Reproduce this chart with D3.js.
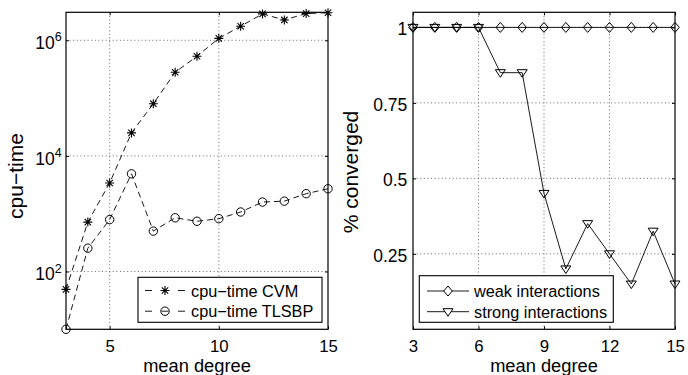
<!DOCTYPE html>
<html>
<head>
<meta charset="utf-8">
<script src="https://cdn.jsdelivr.net/npm/d3@7"></script>
<style>
  body { margin: 0; background: #fff; }
  svg text { font-family: "Liberation Sans", Arial, Helvetica, sans-serif; fill: #000; }
  .domain { display: none; }
  .tick line { stroke: #000; stroke-width: 1; }
</style>
</head>
<body>
<svg width="688" height="375"></svg>
<script>
// mean degree on the x axis of both panels
var degrees = [3, 4, 5, 6, 7, 8, 9, 10, 11, 12, 13, 14, 15];

// left panel: cpu time (log scale)
var cvmTime   = [49, 716, 3400, 25000, 80000, 280000, 530000, 1080000, 1750000, 2860000, 2250000, 2900000, 3000000];
var tlsbpTime = [10, 253, 790, 4900, 500, 850, 740, 820, 1070, 1590, 1650, 2220, 2700];

// right panel: fraction converged
var weakConv   = [1, 1, 1, 1, 1, 1, 1, 1, 1, 1, 1, 1, 1];
var strongConv = [1, 1, 1, 1, 0.85, 0.85, 0.45, 0.2, 0.35, 0.25, 0.15, 0.325, 0.15];

var leftXTicks  = [5, 10, 15];
var leftYTicks  = [1e2, 1e4, 1e6];
var rightXTicks = [3, 6, 9, 12, 15];
var rightYTicks = [0.25, 0.5, 0.75, 1];

var leftLegend  = ["cpu\u2212time CVM", "cpu\u2212time TLSBP"];
var rightLegend = ["weak interactions", "strong interactions"];

var svg = d3.select("svg");
var top_ = 12.3, bottom = 329.3;

// ---------- left panel ----------
var xL = d3.scaleLinear().domain([3, 15]).range([66, 328]);
var yL = d3.scaleLog().domain([10, 3.05e6]).range([bottom, top_]);

var left = svg.append("g");

// grid
left.selectAll(".gx").data([5, 10]).enter().append("line")
    .attr("x1", d => xL(d)).attr("x2", d => xL(d))
    .attr("y1", top_).attr("y2", bottom)
    .attr("stroke", "#444").attr("stroke-width", 0.8).attr("stroke-dasharray", "1,2.6");
left.selectAll(".gy").data(leftYTicks).enter().append("line")
    .attr("x1", 66).attr("x2", 328)
    .attr("y1", d => yL(d)).attr("y2", d => yL(d))
    .attr("stroke", "#444").attr("stroke-width", 0.8).attr("stroke-dasharray", "1,2.6");

// axes (ticks pointing inward)
var axBL = left.append("g").attr("transform", "translate(0," + bottom + ")")
    .call(d3.axisBottom(xL).tickValues(leftXTicks).tickSizeInner(-3).tickSizeOuter(0).tickPadding(10.3));
left.append("g").attr("transform", "translate(0," + top_ + ")")
    .call(d3.axisTop(xL).tickValues(leftXTicks).tickSizeInner(-3).tickSizeOuter(0).tickFormat(""));
var axLL = left.append("g").attr("transform", "translate(66,0)")
    .call(d3.axisLeft(yL).tickValues(leftYTicks).tickSizeInner(-3).tickSizeOuter(0).tickPadding(4.3));
left.append("g").attr("transform", "translate(328,0)")
    .call(d3.axisRight(yL).tickValues(leftYTicks).tickSizeInner(-3).tickSizeOuter(0).tickFormat(""));

axBL.selectAll("text").attr("font-size", 16.8);
axLL.selectAll(".tick text").each(function(d) {
    var t = d3.select(this).text(null).attr("dy", "8.3px").attr("font-size", 17.5);
    t.append("tspan").text("10");
    t.append("tspan").attr("dy", "-7.6px").attr("font-size", 12.5).text(Math.round(Math.log10(d)));
});

// series
var lineL = d3.line().x((d, i) => xL(degrees[i])).y(d => yL(d));
left.append("path").datum(cvmTime).attr("d", lineL)
    .attr("fill", "none").attr("stroke", "#000").attr("stroke-width", 0.9).attr("stroke-dasharray", "6,4");
left.append("path").datum(tlsbpTime).attr("d", lineL)
    .attr("fill", "none").attr("stroke", "#000").attr("stroke-width", 0.9).attr("stroke-dasharray", "6,4");

var starPath = "M-4.5,0L4.5,0M0,-4.5L0,4.5M-3.2,-3.2L3.2,3.2M-3.2,3.2L3.2,-3.2";
left.selectAll(".star").data(cvmTime).enter().append("path")
    .attr("transform", (d, i) => "translate(" + xL(degrees[i]) + "," + yL(d) + ")")
    .attr("d", starPath).attr("stroke", "#000").attr("stroke-width", 1.1).attr("fill", "none");
left.selectAll(".circ").data(tlsbpTime).enter().append("circle")
    .attr("cx", (d, i) => xL(degrees[i])).attr("cy", d => yL(d)).attr("r", 4.2)
    .attr("fill", "none").attr("stroke", "#000").attr("stroke-width", 1);

left.append("rect").attr("x", 66).attr("y", top_).attr("width", 328 - 66).attr("height", bottom - top_)
    .attr("fill", "none").attr("stroke", "#000").attr("stroke-width", 1.2);

// legend
var lgL = left.append("g");
lgL.append("rect").attr("x", 138).attr("y", 277.3).attr("width", 184).attr("height", 45)
    .attr("fill", "#fff").attr("stroke", "#000").attr("stroke-width", 1.1);
leftLegend.forEach(function(name, i) {
    var yy = 290.5 + i * 20.7;
    lgL.append("line").attr("x1", 145).attr("x2", 185).attr("y1", yy).attr("y2", yy)
        .attr("stroke", "#000").attr("stroke-width", 0.9).attr("stroke-dasharray", "7,9.5");
    if (i == 0) {
        lgL.append("path").attr("transform", "translate(165," + yy + ")").attr("d", starPath)
            .attr("stroke", "#000").attr("stroke-width", 1.1);
    } else {
        lgL.append("circle").attr("cx", 165).attr("cy", yy).attr("r", 4.2)
            .attr("fill", "none").attr("stroke", "#000");
    }
    lgL.append("text").attr("x", 191).attr("y", yy + 6).attr("font-size", 16.3).text(name);
});

left.append("text").attr("x", 197).attr("y", 372).attr("text-anchor", "middle")
    .attr("font-size", 18.3).text("mean degree");
left.append("text").attr("transform", "translate(22.5,176) rotate(-90)").attr("text-anchor", "middle")
    .attr("font-size", 21).text("cpu\u2212time");

// ---------- right panel ----------
var xR = d3.scaleLinear().domain([3, 15]).range([413, 675]);
var yR = d3.scaleLinear().domain([0, 1.05]).range([bottom, top_]);

var right = svg.append("g");

right.selectAll(".gx").data([6, 9, 12]).enter().append("line")
    .attr("x1", d => xR(d)).attr("x2", d => xR(d))
    .attr("y1", top_).attr("y2", bottom)
    .attr("stroke", "#444").attr("stroke-width", 0.8).attr("stroke-dasharray", "1,2.6");
right.selectAll(".gy").data(rightYTicks).enter().append("line")
    .attr("x1", 413).attr("x2", 675)
    .attr("y1", d => yR(d)).attr("y2", d => yR(d))
    .attr("stroke", "#444").attr("stroke-width", 0.8).attr("stroke-dasharray", "1,2.6");

var axBR = right.append("g").attr("transform", "translate(0," + bottom + ")")
    .call(d3.axisBottom(xR).tickValues(rightXTicks).tickSizeInner(-3).tickSizeOuter(0).tickPadding(10.3));
right.append("g").attr("transform", "translate(0," + top_ + ")")
    .call(d3.axisTop(xR).tickValues(rightXTicks).tickSizeInner(-3).tickSizeOuter(0).tickFormat(""));
var axLR = right.append("g").attr("transform", "translate(413,0)")
    .call(d3.axisLeft(yR).tickValues(rightYTicks).tickSizeInner(-3).tickSizeOuter(0).tickPadding(5.7)
        .tickFormat(d => String(d)));
right.append("g").attr("transform", "translate(675,0)")
    .call(d3.axisRight(yR).tickValues(rightYTicks).tickSizeInner(-3).tickSizeOuter(0).tickFormat(""));

axBR.selectAll("text").attr("font-size", 16.8);
axLR.selectAll("text").attr("font-size", 17.5).attr("dy", "7.2px");

var lineR = d3.line().x((d, i) => xR(degrees[i])).y(d => yR(d));
right.append("path").datum(weakConv).attr("d", lineR)
    .attr("fill", "none").attr("stroke", "#000").attr("stroke-width", 0.9);
right.append("path").datum(strongConv).attr("d", lineR)
    .attr("fill", "none").attr("stroke", "#000").attr("stroke-width", 0.9);

var diamondPath = "M0,-5L4.3,0L0,5L-4.3,0Z";
var triPath = "M-5,-3L5,-3L0,4.6Z";
right.selectAll(".dia").data(weakConv).enter().append("path")
    .attr("transform", (d, i) => "translate(" + xR(degrees[i]) + "," + yR(d) + ")")
    .attr("d", diamondPath).attr("fill", "none").attr("stroke", "#000").attr("stroke-width", 1);
right.selectAll(".tri").data(strongConv).enter().append("path")
    .attr("transform", (d, i) => "translate(" + xR(degrees[i]) + "," + yR(d) + ")")
    .attr("d", triPath).attr("fill", "none").attr("stroke", "#000").attr("stroke-width", 1);

right.append("rect").attr("x", 413).attr("y", top_).attr("width", 675 - 413).attr("height", bottom - top_)
    .attr("fill", "none").attr("stroke", "#000").attr("stroke-width", 1.2);

var lgR = right.append("g");
lgR.append("rect").attr("x", 419.3).attr("y", 275.7).attr("width", 194).attr("height", 46.6)
    .attr("fill", "#fff").attr("stroke", "#000").attr("stroke-width", 1.1);
rightLegend.forEach(function(name, i) {
    var yy = 291 + i * 20.7;
    lgR.append("line").attr("x1", 427).attr("x2", 469).attr("y1", yy).attr("y2", yy)
        .attr("stroke", "#000").attr("stroke-width", 0.9);
    lgR.append("path").attr("transform", "translate(448," + yy + ")").attr("d", i == 0 ? diamondPath : triPath)
        .attr("fill", "#fff").attr("stroke", "#000");
    lgR.append("text").attr("x", 474).attr("y", yy + 6).attr("font-size", 16.3).text(name);
});

right.append("text").attr("x", 544).attr("y", 372).attr("text-anchor", "middle")
    .attr("font-size", 18.3).text("mean degree");
right.append("text").attr("transform", "translate(358,172) rotate(-90)").attr("text-anchor", "middle")
    .attr("font-size", 21).text("% converged");
</script>
</body>
</html>
